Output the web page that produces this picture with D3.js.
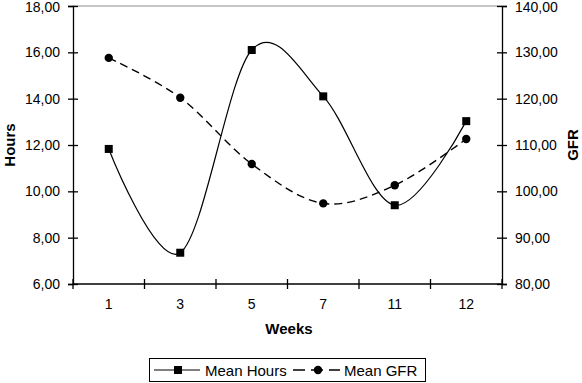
<!DOCTYPE html>
<html>
<head>
<meta charset="utf-8">
<script src="https://cdn.jsdelivr.net/npm/d3@7"></script>
<style>
  html, body { margin: 0; padding: 0; background: #fff; }
  svg { display: block; font-family: "Liberation Sans", Arial, sans-serif; }
</style>
</head>
<body>
<svg id="chart" width="582" height="383"></svg>
<script>
const weeks = ["1", "3", "5", "7", "11", "12"];
const meanHours = [11.83, 7.35, 16.1, 14.1, 9.4, 13.03];
const meanGFR = [128.8, 120.2, 105.9, 97.4, 101.3, 111.3];
const hoursTicks = [6, 8, 10, 12, 14, 16, 18];
const gfrTicks = [80, 90, 100, 110, 120, 130, 140];

const svg = d3.select("#chart");
const L = 73, R = 502, T = 6, B = 284;

const x = d3.scaleBand().domain(weeks).range([L, R]).padding(0);
const yH = d3.scaleLinear().domain([6, 18]).range([B, T]);
const yG = d3.scaleLinear().domain([80, 140]).range([B, T]);
const fmt = v => d3.format(".2f")(v).replace(".", ",");
const cx = d => x(d) + x.bandwidth() / 2;

// top border
svg.append("line").attr("x1", L).attr("x2", R).attr("y1", T).attr("y2", T)
  .attr("stroke", "#8c8c8c").attr("stroke-width", 1);

// left axis
const gL = svg.append("g").attr("transform", `translate(${L},0)`)
  .call(d3.axisLeft(yH).tickValues(hoursTicks).tickFormat(fmt).tickSize(5).tickPadding(8));
gL.selectAll(".tick line").attr("x1", -5).attr("x2", 5);
// right axis
const gR = svg.append("g").attr("transform", `translate(${R},0)`)
  .call(d3.axisRight(yG).tickValues(gfrTicks).tickFormat(fmt).tickSize(5).tickPadding(8));
gR.selectAll(".tick line").attr("x1", -5).attr("x2", 5);
// bottom axis
const gB = svg.append("g").attr("transform", `translate(0,${B})`)
  .call(d3.axisBottom(x).tickSize(0).tickPadding(15));
gB.select(".domain").attr("d", `M${L},0H${R}`);
const bounds = weeks.map(w => x(w)).concat([x(weeks[weeks.length - 1]) + x.bandwidth()]);
gB.selectAll(".btick").data(bounds).enter().append("line")
  .attr("x1", d => d).attr("x2", d => d).attr("y1", -5).attr("y2", 5)
  .attr("stroke", "#000");

[gL, gR, gB].forEach(g => {
  g.selectAll(".domain").attr("stroke", "#000").attr("stroke-width", 1.3);
  g.selectAll("line").attr("stroke", "#000").attr("stroke-width", 1.3);
  g.selectAll("text").attr("font-size", 14).attr("fill", "#000")
    .attr("font-family", "Liberation Sans, Arial, sans-serif");
});
// keep the top labels inside the picture
[gL, gR].forEach(g => {
  g.selectAll(".tick text").filter(function () {
    return d3.select(this.parentNode).datum() === 18 || d3.select(this.parentNode).datum() === 140;
  }).attr("y", 1.5);
});

// axis titles
svg.append("text").attr("transform", `translate(15,${(T + B) / 2}) rotate(-90)`)
  .attr("text-anchor", "middle").attr("font-weight", "bold").attr("font-size", 15).text("Hours");
svg.append("text").attr("transform", `translate(578,${(T + B) / 2}) rotate(-90)`)
  .attr("text-anchor", "middle").attr("font-weight", "bold").attr("font-size", 15).text("GFR");
svg.append("text").attr("x", 289).attr("y", 334)
  .attr("text-anchor", "middle").attr("font-weight", "bold").attr("font-size", 15).text("Weeks");

// series
const curve = d3.curveCardinal.tension(0);
const lineH = d3.line().x((d, i) => cx(weeks[i])).y(d => yH(d)).curve(curve);
const lineG = d3.line().x((d, i) => cx(weeks[i])).y(d => yG(d)).curve(curve);

svg.append("path").attr("d", lineG(meanGFR)).attr("fill", "none")
  .attr("stroke", "#000").attr("stroke-width", 1.4).attr("stroke-dasharray", "8,5");
svg.append("path").attr("d", lineH(meanHours)).attr("fill", "none")
  .attr("stroke", "#000").attr("stroke-width", 1.2);

svg.selectAll(".mh").data(meanHours).enter().append("rect")
  .attr("x", (d, i) => cx(weeks[i]) - 4).attr("y", d => yH(d) - 4)
  .attr("width", 8).attr("height", 8).attr("fill", "#000");
svg.selectAll(".mg").data(meanGFR).enter().append("circle")
  .attr("cx", (d, i) => cx(weeks[i])).attr("cy", d => yG(d)).attr("r", 4.2).attr("fill", "#000");

// legend
const lg = svg.append("g");
lg.append("rect").attr("x", 149.5).attr("y", 358.5).attr("width", 276).attr("height", 23)
  .attr("fill", "#fff").attr("stroke", "#000").attr("stroke-width", 1);
lg.append("line").attr("x1", 154).attr("x2", 200).attr("y1", 370).attr("y2", 370)
  .attr("stroke", "#000").attr("stroke-width", 1.2);
lg.append("rect").attr("x", 174).attr("y", 366).attr("width", 8).attr("height", 8).attr("fill", "#000");
lg.append("text").attr("x", 205).attr("y", 375.5).attr("font-size", 15).text("Mean Hours");
lg.append("line").attr("x1", 293).attr("x2", 340).attr("y1", 370).attr("y2", 370)
  .attr("stroke", "#000").attr("stroke-width", 1.4).attr("stroke-dasharray", "12,6");
lg.append("circle").attr("cx", 318).attr("cy", 370).attr("r", 4.2).attr("fill", "#000");
lg.append("text").attr("x", 344).attr("y", 375.5).attr("font-size", 15).text("Mean GFR");
</script>
</body>
</html>
